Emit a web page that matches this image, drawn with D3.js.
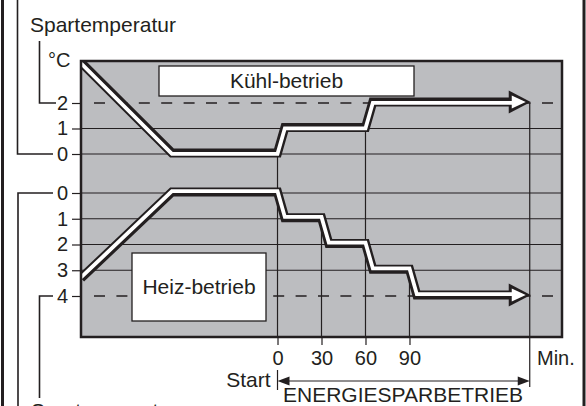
<!DOCTYPE html>
<html>
<head>
<meta charset="utf-8">
<script src="https://cdn.jsdelivr.net/npm/d3@7"></script>
<style>
  body { margin: 0; background: #fff; }
  svg { display: block; font-family: "Liberation Sans", Arial, sans-serif; }
</style>
</head>
<body>
<svg id="chart" width="586" height="406"></svg>
<script>
// data (time in minutes, temperature shift in °C)
var coolTimes = [-134, -72, 0, 5, 60, 65, 172];
var coolTemps = [3.55, 0, 0, 1, 1, 2, 2];
var heatTimes = [-134, -72, 0, 5, 30, 35, 60, 65, 90, 95, 172];
var heatTemps = [3.35, 0, 0, 1, 1, 2, 2, 3, 3, 4, 4];
var coolTicks = [0, 1, 2];
var heatTicks = [0, 1, 2, 3, 4];
var timeTicks = [0, 30, 60, 90];
var endTime = 172;
var coolTarget = 2, heatTarget = 4;

// constants
var ink = "#231f20", grey = "#bcbdc0";
var plot = { left: 81, right: 562, top: 61, bottom: 337 };
var font = 20, wordFont = 21;

var svg = d3.select("#chart");

var x = d3.scaleLinear().domain([-134, 194]).range([plot.left, plot.right]);
var yCool = d3.scaleLinear().domain([0, 2]).range([154, 103]);
var yHeat = d3.scaleLinear().domain([0, 4]).range([193, 296]);

// outer frame
svg.append("line").attr("x1", 2.5).attr("x2", 2.5).attr("y1", 0).attr("y2", 406)
    .attr("stroke", ink).attr("stroke-width", 3);
svg.append("line").attr("x1", 584).attr("x2", 584).attr("y1", 0).attr("y2", 406)
    .attr("stroke", ink).attr("stroke-width", 3);

// plot background
svg.append("rect")
    .attr("x", plot.left).attr("y", plot.top)
    .attr("width", plot.right - plot.left).attr("height", plot.bottom - plot.top)
    .attr("fill", grey);

svg.append("clipPath").attr("id", "plotclip")
    .append("rect")
    .attr("x", plot.left).attr("y", plot.top)
    .attr("width", plot.right - plot.left).attr("height", plot.bottom - plot.top);

// grid lines
var grid = svg.append("g").attr("stroke", ink).attr("stroke-width", 1.2);
coolTicks.filter(function (v) { return v != coolTarget; }).forEach(function (v) {
    grid.append("line").attr("x1", plot.left).attr("x2", plot.right)
        .attr("y1", yCool(v)).attr("y2", yCool(v));
});
heatTicks.filter(function (v) { return v != heatTarget; }).forEach(function (v) {
    grid.append("line").attr("x1", plot.left).attr("x2", plot.right)
        .attr("y1", yHeat(v)).attr("y2", yHeat(v));
});

// dashed target lines
[yCool(coolTarget), yHeat(heatTarget)].forEach(function (yy) {
    svg.append("line")
        .attr("x1", 94).attr("x2", 553)
        .attr("y1", yy).attr("y2", yy)
        .attr("stroke", ink).attr("stroke-width", 1.6)
        .attr("stroke-dasharray", "11,11.4");
});

// vertical time markers, starting at the curve that steps at that time
timeTicks.forEach(function (t) {
    var ci = coolTimes.indexOf(t);
    var top = ci >= 0 ? yCool(coolTemps[ci]) : yHeat(heatTemps[heatTimes.indexOf(t)]);
    svg.append("line")
        .attr("x1", x(t)).attr("x2", x(t))
        .attr("y1", top).attr("y2", plot.bottom)
        .attr("stroke", ink).attr("stroke-width", 1.2);
});
svg.append("line")
    .attr("x1", x(endTime)).attr("x2", x(endTime))
    .attr("y1", yCool(coolTarget)).attr("y2", 387)
    .attr("stroke", ink).attr("stroke-width", 1.2);

// mode boxes
svg.append("rect").attr("x", 159).attr("y", 66).attr("width", 255).attr("height", 30)
    .attr("fill", "#fff").attr("stroke", ink).attr("stroke-width", 1.3);
svg.append("text").attr("x", 286.5).attr("y", 88).attr("text-anchor", "middle")
    .style("font-size", wordFont + "px").attr("fill", ink).text("Kühl-betrieb");

svg.append("rect").attr("x", 132).attr("y", 253).attr("width", 134).attr("height", 68)
    .attr("fill", "#fff").attr("stroke", ink).attr("stroke-width", 1.3);
svg.append("text").attr("x", 199).attr("y", 294).attr("text-anchor", "middle")
    .style("font-size", wordFont + "px").attr("fill", ink).text("Heiz-betrieb");

// hollow curves with arrow heads
function drawCurve(times, temps, yScale, shift) {
    var pts = times.map(function (t, i) { return [x(t), yScale(temps[i]) - 1]; });
    var tip = pts[pts.length - 1];
    var shaft = pts.slice();
    shaft[shaft.length - 1] = [tip[0] - 14, tip[1]];
    var line = d3.line();
    var g = svg.append("g").attr("clip-path", "url(#plotclip)");

    g.append("path").attr("d", line(shaft))
        .attr("fill", "none").attr("stroke", ink)
        .attr("stroke-width", 9).attr("stroke-linejoin", "miter");
    g.append("path")
        .attr("d", d3.line()([[tip[0] - 21, tip[1] - 11.5], [tip[0] + 1, tip[1]], [tip[0] - 21, tip[1] + 11.5]]) + "Z")
        .attr("fill", ink);
    g.append("path").attr("d", line(shaft))
        .attr("transform", "translate(0," + shift + ")")
        .attr("fill", "none").attr("stroke", "#fff")
        .attr("stroke-width", 3.8).attr("stroke-linejoin", "miter");
    g.append("path")
        .attr("d", d3.line()([[tip[0] - 18, tip[1] - 6.5], [tip[0] - 4, tip[1]], [tip[0] - 18, tip[1] + 6.5]]) + "Z")
        .attr("fill", "#fff");
}
drawCurve(coolTimes, coolTemps, yCool, 0.8);
drawCurve(heatTimes, heatTemps, yHeat, -0.8);

// plot border
svg.append("rect")
    .attr("x", plot.left).attr("y", plot.top)
    .attr("width", plot.right - plot.left).attr("height", plot.bottom - plot.top)
    .attr("fill", "none").attr("stroke", ink).attr("stroke-width", 2.5);

// axes
function styleAxis(g) {
    g.select(".domain").remove();
    g.attr("font-family", null).attr("font-size", font).attr("color", ink);
    g.selectAll("line").attr("stroke-width", 1.2);
    g.selectAll("text").attr("fill", ink);
}
svg.append("g").attr("transform", "translate(" + plot.left + ",0)")
    .call(d3.axisLeft(yCool).tickValues(coolTicks).tickSize(9).tickPadding(4).tickFormat(d3.format("d")))
    .call(styleAxis);
svg.append("g").attr("transform", "translate(" + plot.left + ",0)")
    .call(d3.axisLeft(yHeat).tickValues(heatTicks).tickSize(9).tickPadding(4).tickFormat(d3.format("d")))
    .call(styleAxis);
svg.append("g").attr("transform", "translate(0," + plot.bottom + ")")
    .call(d3.axisBottom(x).tickValues(timeTicks).tickSize(8).tickPadding(6).tickFormat(d3.format("d")))
    .call(styleAxis);

svg.append("text").attr("x", 537).attr("y", 365)
    .style("font-size", font + "px").attr("fill", ink).text("Min.");

// brackets to the labels
var br = svg.append("g").attr("fill", "none").attr("stroke", ink).attr("stroke-width", 1.6);
br.append("path").attr("d", "M17.5,0V" + yCool(0) + "H53");
br.append("path").attr("d", "M39.5,41V" + yCool(coolTarget) + "H56");
br.append("path").attr("d", "M18,406V" + yHeat(0) + "H53");
br.append("path").attr("d", "M39.5,398V" + yHeat(heatTarget) + "H53");

svg.append("text").attr("x", 30).attr("y", 32)
    .style("font-size", wordFont + "px").attr("fill", ink).text("Spartemperatur");
svg.append("text").attr("x", 48).attr("y", 67)
    .style("font-size", font + "px").attr("fill", ink).text("°C");
svg.append("text").attr("x", 31).attr("y", 418)
    .style("font-size", wordFont + "px").attr("fill", ink).text("Spartemperatur");

// energy saving period arrow
var ya = 381;
svg.append("line").attr("x1", x(0)).attr("x2", x(0)).attr("y1", 370).attr("y2", 390)
    .attr("stroke", ink).attr("stroke-width", 1.2);
svg.append("line").attr("x1", x(0) + 6).attr("x2", x(endTime) - 6).attr("y1", ya).attr("y2", ya)
    .attr("stroke", ink).attr("stroke-width", 1.2);
svg.append("path")
    .attr("d", "M" + x(0) + "," + ya + "l12,-4.5v9Z").attr("fill", ink);
svg.append("path")
    .attr("d", "M" + x(endTime) + "," + ya + "l-12,-4.5v9Z").attr("fill", ink);

svg.append("text").attr("x", x(0) - 7).attr("y", 387).attr("text-anchor", "end")
    .style("font-size", wordFont + "px").attr("fill", ink).text("Start");
svg.append("text").attr("x", 283).attr("y", 402)
    .style("font-size", wordFont + "px").attr("fill", ink).text("ENERGIESPARBETRIEB");
</script>
</body>
</html>
